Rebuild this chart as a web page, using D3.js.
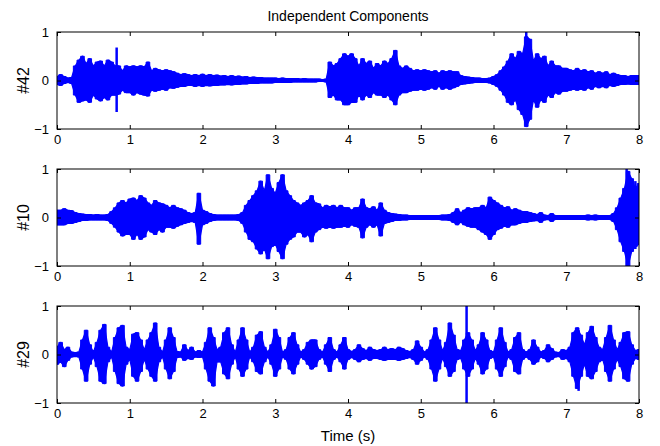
<!DOCTYPE html>
<html>
<head>
<meta charset="utf-8">
<script src="https://cdnjs.cloudflare.com/ajax/libs/d3/7.8.5/d3.min.js"></script>
<style>
  body { margin: 0; background: #fff; }
  svg { font-family: "Liberation Sans", Arial, sans-serif; }
</style>
</head>
<body>
<div id="chart"></div>
<script>
'use strict';

const sampleStep = 0.05;

const up42 = [
  0.08, 0.12, 0.08, 0.05, 0.06, 0.3, 0.42, 0.5, 0.35, 0.45, 0.3, 0.38, 0.4, 0.3, 0.42, 0.38, 0.3, 0.3, 0.2, 0.3,
  0.28, 0.3, 0.28, 0.3, 0.28, 0.38, 0.2, 0.25, 0.22, 0.2, 0.22, 0.2, 0.18, 0.15, 0.12, 0.14, 0.12, 0.1, 0.12, 0.1,
  0.13, 0.1, 0.12, 0.1, 0.11, 0.09, 0.1, 0.08, 0.1, 0.08, 0.09, 0.07, 0.08, 0.06, 0.07, 0.06, 0.06, 0.05, 0.05, 0.05,
  0.05, 0.04, 0.05, 0.04, 0.04, 0.04, 0.04, 0.03, 0.04, 0.03, 0.03, 0.03, 0.03, 0.02, 0.03, 0.38, 0.3, 0.35, 0.45, 0.55,
  0.5, 0.55, 0.45, 0.3, 0.45, 0.35, 0.4, 0.25, 0.35, 0.3, 0.4, 0.35, 0.45, 0.62, 0.3, 0.25, 0.3, 0.25, 0.2, 0.22,
  0.2, 0.22, 0.2, 0.18, 0.2, 0.15, 0.2, 0.18, 0.2, 0.18, 0.18, 0.1, 0.08, 0.07, 0.06, 0.05, 0.05, 0.04, 0.04, 0.05,
  0.08, 0.12, 0.2, 0.28, 0.4, 0.55, 0.45, 0.6, 0.55, 0.9, 0.85, 0.4, 0.55, 0.45, 0.5, 0.3, 0.4, 0.3, 0.3, 0.25,
  0.25, 0.22, 0.2, 0.25, 0.2, 0.22, 0.18, 0.2, 0.15, 0.18, 0.15, 0.18, 0.12, 0.15, 0.12, 0.1, 0.1, 0.08, 0.1, 0.1, 0.1
];
const lo42 = [
  -0.08, -0.1, -0.06, -0.04, -0.06, -0.3, -0.45, -0.42, -0.4, -0.45, -0.3, -0.38, -0.42, -0.35, -0.4, -0.3, -0.3, -0.28, -0.2, -0.25,
  -0.25, -0.3, -0.25, -0.28, -0.3, -0.32, -0.2, -0.22, -0.2, -0.18, -0.2, -0.15, -0.16, -0.14, -0.12, -0.12, -0.1, -0.1, -0.12, -0.1,
  -0.12, -0.1, -0.11, -0.1, -0.1, -0.09, -0.09, -0.08, -0.09, -0.08, -0.08, -0.07, -0.07, -0.06, -0.06, -0.06, -0.05, -0.05, -0.05, -0.05,
  -0.04, -0.04, -0.04, -0.04, -0.04, -0.03, -0.03, -0.03, -0.03, -0.03, -0.03, -0.03, -0.02, -0.02, -0.03, -0.35, -0.3, -0.4, -0.4, -0.5,
  -0.5, -0.45, -0.45, -0.3, -0.4, -0.3, -0.35, -0.25, -0.3, -0.3, -0.35, -0.3, -0.4, -0.5, -0.3, -0.25, -0.25, -0.22, -0.2, -0.2,
  -0.18, -0.2, -0.18, -0.15, -0.18, -0.12, -0.18, -0.15, -0.18, -0.15, -0.12, -0.08, -0.07, -0.06, -0.05, -0.04, -0.04, -0.04, -0.04, -0.05,
  -0.08, -0.12, -0.2, -0.3, -0.45, -0.5, -0.4, -0.6, -0.7, -0.95, -0.8, -0.4, -0.55, -0.4, -0.45, -0.3, -0.35, -0.25, -0.28, -0.22,
  -0.22, -0.2, -0.18, -0.2, -0.18, -0.2, -0.15, -0.18, -0.12, -0.15, -0.12, -0.15, -0.1, -0.12, -0.1, -0.08, -0.08, -0.07, -0.08, -0.08, -0.08
];

const up10 = [
  0.15, 0.15, 0.18, 0.15, 0.14, 0.1, 0.08, 0.07, 0.06, 0.06, 0.05, 0.06, 0.05, 0.05, 0.06, 0.12, 0.2, 0.3, 0.35, 0.3,
  0.38, 0.4, 0.35, 0.45, 0.4, 0.3, 0.25, 0.35, 0.3, 0.28, 0.25, 0.2, 0.25, 0.2, 0.18, 0.15, 0.1, 0.08, 0.1, 0.5,
  0.15, 0.12, 0.08, 0.06, 0.05, 0.05, 0.05, 0.05, 0.05, 0.05, 0.06, 0.1, 0.25, 0.35, 0.45, 0.55, 0.75, 0.55, 0.88, 0.6,
  0.5, 0.72, 0.88, 0.55, 0.45, 0.35, 0.3, 0.25, 0.3, 0.35, 0.45, 0.3, 0.28, 0.2, 0.25, 0.22, 0.25, 0.2, 0.25, 0.2,
  0.2, 0.15, 0.2, 0.2, 0.38, 0.2, 0.18, 0.22, 0.15, 0.3, 0.15, 0.1, 0.08, 0.07, 0.06, 0.05, 0.05, 0.04, 0.04, 0.04,
  0.04, 0.04, 0.04, 0.04, 0.04, 0.04, 0.05, 0.05, 0.06, 0.1, 0.18, 0.1, 0.15, 0.2, 0.18, 0.2, 0.2, 0.25, 0.2, 0.42,
  0.35, 0.3, 0.25, 0.2, 0.22, 0.15, 0.18, 0.15, 0.12, 0.12, 0.1, 0.08, 0.06, 0.1, 0.05, 0.04, 0.08, 0.04, 0.04, 0.04,
  0.04, 0.04, 0.04, 0.04, 0.04, 0.04, 0.05, 0.04, 0.05, 0.04, 0.04, 0.04, 0.04, 0.08, 0.2, 0.4, 0.6, 0.95, 0.8, 0.6, 0.7
];
const lo10 = [
  -0.15, -0.15, -0.15, -0.12, -0.12, -0.1, -0.08, -0.06, -0.06, -0.05, -0.05, -0.05, -0.05, -0.05, -0.06, -0.12, -0.2, -0.3, -0.38, -0.35,
  -0.35, -0.45, -0.35, -0.45, -0.4, -0.25, -0.3, -0.35, -0.25, -0.3, -0.2, -0.2, -0.22, -0.18, -0.15, -0.12, -0.1, -0.08, -0.1, -0.55,
  -0.15, -0.12, -0.08, -0.06, -0.05, -0.05, -0.05, -0.05, -0.05, -0.05, -0.06, -0.12, -0.3, -0.45, -0.5, -0.65, -0.75, -0.65, -0.85, -0.6,
  -0.55, -0.7, -0.85, -0.55, -0.45, -0.4, -0.3, -0.3, -0.4, -0.35, -0.5, -0.3, -0.25, -0.2, -0.22, -0.2, -0.22, -0.2, -0.2, -0.18,
  -0.2, -0.15, -0.18, -0.2, -0.42, -0.2, -0.15, -0.2, -0.15, -0.38, -0.12, -0.1, -0.08, -0.06, -0.06, -0.05, -0.05, -0.04, -0.04, -0.04,
  -0.04, -0.04, -0.04, -0.04, -0.04, -0.04, -0.05, -0.05, -0.06, -0.1, -0.15, -0.1, -0.15, -0.18, -0.2, -0.2, -0.25, -0.3, -0.35, -0.45,
  -0.35, -0.25, -0.22, -0.18, -0.2, -0.15, -0.15, -0.12, -0.1, -0.1, -0.08, -0.07, -0.06, -0.1, -0.05, -0.04, -0.08, -0.04, -0.04, -0.04,
  -0.04, -0.04, -0.04, -0.04, -0.04, -0.04, -0.05, -0.04, -0.05, -0.04, -0.04, -0.04, -0.04, -0.08, -0.25, -0.5, -0.7, -1.0, -0.7, -0.6, -0.55
];

const up29 = [
  0.15, 0.25, 0.1, 0.15, 0.05, 0.04, 0.05, 0.3, 0.5, 0.2, 0.05, 0.25, 0.5, 0.62, 0.15, 0.05, 0.35, 0.55, 0.6, 0.15,
  0.1, 0.42, 0.45, 0.3, 0.1, 0.3, 0.45, 0.65, 0.15, 0.05, 0.3, 0.55, 0.35, 0.06, 0.05, 0.2, 0.08, 0.15, 0.05, 0.08,
  0.05, 0.25, 0.55, 0.35, 0.1, 0.15, 0.45, 0.55, 0.2, 0.05, 0.3, 0.55, 0.3, 0.05, 0.15, 0.4, 0.47, 0.15, 0.05, 0.2,
  0.52, 0.35, 0.05, 0.1, 0.35, 0.45, 0.2, 0.05, 0.1, 0.25, 0.3, 0.3, 0.1, 0.05, 0.2, 0.35, 0.1, 0.05, 0.2, 0.35,
  0.1, 0.06, 0.1, 0.2, 0.12, 0.08, 0.15, 0.1, 0.08, 0.1, 0.15, 0.1, 0.12, 0.1, 0.15, 0.12, 0.08, 0.06, 0.1, 0.28,
  0.15, 0.05, 0.1, 0.3, 0.55, 0.3, 0.08, 0.25, 0.65, 0.4, 0.1, 0.08, 0.3, 0.45, 0.3, 0.08, 0.2, 0.45, 0.3, 0.08,
  0.05, 0.3, 0.55, 0.25, 0.05, 0.1, 0.35, 0.45, 0.1, 0.05, 0.1, 0.3, 0.15, 0.05, 0.08, 0.2, 0.12, 0.05, 0.04, 0.1,
  0.08, 0.15, 0.45, 0.55, 0.4, 0.2, 0.45, 0.58, 0.35, 0.15, 0.1, 0.35, 0.6, 0.3, 0.1, 0.25, 0.45, 0.47, 0.2, 0.08, 0.1
];
const lo29 = [
  -0.2, -0.15, -0.25, -0.12, -0.05, -0.04, -0.05, -0.3, -0.55, -0.2, -0.05, -0.25, -0.55, -0.6, -0.15, -0.05, -0.35, -0.6, -0.65, -0.2,
  -0.1, -0.45, -0.55, -0.35, -0.1, -0.3, -0.45, -0.55, -0.15, -0.05, -0.3, -0.5, -0.35, -0.06, -0.05, -0.12, -0.08, -0.1, -0.05, -0.06,
  -0.05, -0.3, -0.55, -0.65, -0.15, -0.15, -0.4, -0.5, -0.2, -0.05, -0.3, -0.45, -0.3, -0.05, -0.15, -0.35, -0.4, -0.15, -0.05, -0.2,
  -0.45, -0.3, -0.05, -0.1, -0.3, -0.4, -0.2, -0.05, -0.1, -0.2, -0.3, -0.25, -0.1, -0.05, -0.2, -0.35, -0.1, -0.05, -0.15, -0.3,
  -0.1, -0.06, -0.1, -0.15, -0.1, -0.08, -0.12, -0.08, -0.08, -0.1, -0.12, -0.1, -0.1, -0.1, -0.12, -0.1, -0.08, -0.06, -0.1, -0.2,
  -0.12, -0.05, -0.1, -0.3, -0.55, -0.3, -0.08, -0.25, -0.45, -0.35, -0.1, -0.08, -0.3, -0.45, -0.3, -0.08, -0.2, -0.4, -0.3, -0.08,
  -0.05, -0.3, -0.45, -0.25, -0.05, -0.1, -0.35, -0.4, -0.1, -0.05, -0.1, -0.2, -0.15, -0.05, -0.08, -0.15, -0.1, -0.05, -0.04, -0.1,
  -0.08, -0.15, -0.45, -0.7, -0.45, -0.2, -0.45, -0.5, -0.35, -0.15, -0.1, -0.35, -0.55, -0.3, -0.1, -0.25, -0.5, -0.55, -0.2, -0.08, -0.1
];

// Single sharp peaks: [time, top, bottom]
const spikes42 = [[0.82, 0.68, -0.65], [6.45, 1.05, -0.95], [6.5, 0.85, -0.6]];
const spikes10 = [[1.95, 0.5, -0.55], [7.83, 1.05, -1.05], [7.95, 0.75, -0.65]];
const spikes29 = [[2.15, 0.3, -0.65], [5.63, 1.05, -1.05], [7.17, 0.5, -0.75]];

const panelLabels = ["#42", "#10", "#29"];
const xTicks = [0, 1, 2, 3, 4, 5, 6, 7, 8];
const yTicks = [-1, 0, 1];

const panels = [
  {label: panelLabels[0], up: up42, lo: lo42, spikes: spikes42, top: 32},
  {label: panelLabels[1], up: up10, lo: lo10, spikes: spikes10, top: 169},
  {label: panelLabels[2], up: up29, lo: lo29, spikes: spikes29, top: 306}
];

const width = 660;
const height = 446;
const left = 57, right = 639, panelH = 97;
const blue = "#0000ff";

const svg = d3.select("#chart").append("svg")
    .attr("width", width)
    .attr("height", height);

const x = d3.scaleLinear().domain([0, 8]).range([left, right]);

svg.append("text")
    .attr("x", 348)
    .attr("y", 21)
    .attr("text-anchor", "middle")
    .style("font-size", "14px")
    .text("Independent Components");

panels.forEach((p, k) => {
  const y = d3.scaleLinear().domain([-1, 1]).range([p.top + panelH, p.top]);
  const g = svg.append("g");

  svg.append("clipPath").attr("id", "clip" + k)
    .append("rect")
      .attr("x", left).attr("y", p.top)
      .attr("width", right - left).attr("height", panelH);

  const env = p.up.map((u, i) => ({t: i * sampleStep, u: u, l: p.lo[i]}));

  const wave = g.append("g").attr("clip-path", `url(#clip${k})`);

  // smooth body of the signal
  wave.append("path")
      .datum(env)
      .attr("d", d3.area().x(d => x(d.t)).y0(d => y(d.l)).y1(d => y(d.u)))
      .attr("fill", blue)
      .attr("stroke", blue)
      .attr("stroke-width", 1.2)
      .attr("stroke-linejoin", "round");

  // stepped outline on top of it for the jagged edge of a dense waveform
  wave.append("path")
      .datum(env)
      .attr("d", d3.area().curve(d3.curveStep).x(d => x(d.t)).y0(d => y(d.l)).y1(d => y(d.u)))
      .attr("fill", blue)
      .attr("stroke", blue)
      .attr("stroke-width", 1);

  wave.selectAll("line.spike")
    .data(p.spikes)
    .join("line")
      .attr("class", "spike")
      .attr("x1", d => x(d[0])).attr("x2", d => x(d[0]))
      .attr("y1", d => y(d[1])).attr("y2", d => y(d[2]))
      .attr("stroke", blue)
      .attr("stroke-width", 2.5);

  // axes, ticks pointing inward like MATLAB
  g.append("g")
      .attr("transform", `translate(0,${p.top + panelH})`)
      .call(d3.axisBottom(x).tickValues(xTicks).tickFormat(d3.format("d"))
        .tickSizeInner(-4).tickSizeOuter(0).tickPadding(6));

  g.append("g")
      .attr("transform", `translate(0,${p.top})`)
      .call(d3.axisTop(x).tickValues(xTicks).tickFormat("")
        .tickSizeInner(-4).tickSizeOuter(0));

  g.append("g")
      .attr("transform", `translate(${left},0)`)
      .call(d3.axisLeft(y).tickValues(yTicks).tickFormat(d3.format("d"))
        .tickSizeInner(-4).tickSizeOuter(0).tickPadding(8));

  g.append("g")
      .attr("transform", `translate(${right},0)`)
      .call(d3.axisRight(y).tickValues(yTicks).tickFormat("")
        .tickSizeInner(-4).tickSizeOuter(0));

  g.selectAll(".domain").remove();
  g.selectAll(".tick line").attr("stroke", "#000");
  g.selectAll(".tick text")
      .attr("fill", "#000")
      .style("font-size", "13px")
      .style("font-family", "Liberation Sans, Arial, sans-serif");

  g.append("rect")
      .attr("x", left).attr("y", p.top)
      .attr("width", right - left).attr("height", panelH)
      .attr("fill", "none")
      .attr("stroke", "#000")
      .attr("stroke-width", 1);

  g.append("text")
      .attr("transform", `translate(29,${p.top + panelH / 2}) rotate(-90)`)
      .attr("text-anchor", "middle")
      .style("font-size", "16px")
      .text(p.label);
});

svg.append("text")
    .attr("x", 348)
    .attr("y", 441)
    .attr("text-anchor", "middle")
    .style("font-size", "15px")
    .text("Time (s)");
</script>
</body>
</html>
